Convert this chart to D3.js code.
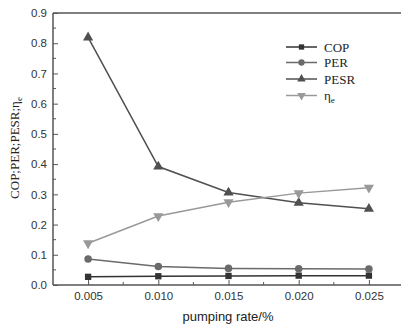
<!DOCTYPE html>
<html><head><meta charset="utf-8">
<script src="https://cdn.jsdelivr.net/npm/d3@7"></script>
<style>body{margin:0;background:#fff}svg{display:block}</style>
</head><body>
<script>
const rates = [0.005, 0.010, 0.015, 0.020, 0.025];
const cop  = [0.027, 0.029, 0.030, 0.031, 0.031];
const per  = [0.086, 0.061, 0.055, 0.054, 0.053];
const pesr = [0.819, 0.392, 0.306, 0.272, 0.252];
const eta  = [0.138, 0.228, 0.274, 0.304, 0.322];
const xTicks = [0.005, 0.010, 0.015, 0.020, 0.025];
const yTicks = [0, 0.1, 0.2, 0.3, 0.4, 0.5, 0.6, 0.7, 0.8, 0.9];

const W = 401, H = 329;
const svg = d3.select("body").append("svg").attr("width", W).attr("height", H);
const x = d3.scaleLinear().domain([0.0025, 0.0275]).range([53, 404]);
const y = d3.scaleLinear().domain([0, 0.9]).range([285, 13]);

const series = [
  {name: "COP", vals: cop, color: "#333333", sym: d3.symbolSquare, size: 40, rot: 0},
  {name: "PER", vals: per, color: "#6a6a6a", sym: d3.symbolCircle, size: 45, rot: 0},
  {name: "PESR", vals: pesr, color: "#505050", sym: d3.symbolTriangle, size: 45, rot: 0},
  {name: "η", vals: eta, color: "#999999", sym: d3.symbolTriangle, size: 45, rot: 180}
];

// axes lines
const axc = "#555";
svg.append("line").attr("x1", 53).attr("x2", 404).attr("y1", 13).attr("y2", 13).attr("stroke", axc).attr("stroke-width", 1.5);
svg.append("line").attr("x1", 53).attr("x2", 53).attr("y1", 13).attr("y2", 285).attr("stroke", axc).attr("stroke-width", 1.5);
svg.append("line").attr("x1", 53).attr("x2", 404).attr("y1", 285).attr("y2", 285).attr("stroke", axc).attr("stroke-width", 1.5);

// y ticks
const yAxis = d3.axisLeft(y).tickValues(yTicks).tickFormat(d3.format(".1f")).tickSizeInner(-5).tickSizeOuter(0).tickPadding(6);
const gy = svg.append("g").attr("transform", "translate(53,0)").call(yAxis);
gy.select(".domain").remove();
gy.selectAll("line").attr("stroke", axc).attr("stroke-width", 1);
gy.selectAll("text").attr("font-family", "Liberation Sans, Arial, sans-serif").attr("font-size", 11.5).attr("fill", "#333");
const yMinor = d3.range(0.05, 0.9, 0.1);
svg.append("g").selectAll("line").data(yMinor).join("line")
  .attr("x1", 53).attr("x2", 56).attr("y1", d => y(d)).attr("y2", d => y(d)).attr("stroke", axc);

// x ticks
const xAxis = d3.axisBottom(x).tickValues(xTicks).tickFormat(d3.format(".3f")).tickSizeInner(-5).tickSizeOuter(0).tickPadding(7);
const gx = svg.append("g").attr("transform", "translate(0,285)").call(xAxis);
gx.select(".domain").remove();
gx.selectAll("line").attr("stroke", axc).attr("stroke-width", 1);
gx.selectAll("text").attr("font-family", "Liberation Sans, Arial, sans-serif").attr("font-size", 11.5).attr("fill", "#333");
const xMinor = [0.0075, 0.0125, 0.0175, 0.0225];
svg.append("g").selectAll("line").data(xMinor).join("line")
  .attr("x1", d => x(d)).attr("x2", d => x(d)).attr("y1", 285).attr("y2", 282).attr("stroke", axc);

// axis titles
svg.append("text").attr("x", 228).attr("y", 321).attr("text-anchor", "middle")
  .attr("font-family", "Liberation Sans, Arial, sans-serif").attr("font-size", 13).attr("fill", "#222").text("pumping rate/%");
const yt = svg.append("text").attr("transform", "translate(19,148) rotate(-90)").attr("text-anchor", "middle")
  .attr("font-family", "Liberation Serif, Times New Roman, serif").attr("font-size", 13).attr("fill", "#222");
yt.append("tspan").text("COP;PER;PESR;η");
yt.append("tspan").attr("font-size", 9).attr("dy", 3).text("e");

// series
const line = d3.line().x((d, i) => x(rates[i])).y(d => y(d));
series.forEach(s => {
  svg.append("path").attr("d", line(s.vals)).attr("fill", "none").attr("stroke", s.color).attr("stroke-width", 1.5);
  svg.append("g").selectAll("path").data(s.vals).join("path")
    .attr("d", d3.symbol().type(s.sym).size(s.size))
    .attr("transform", (d, i) => `translate(${x(rates[i])},${y(d)}) rotate(${s.rot})`)
    .attr("fill", s.color);
});

// legend
const ly = [47, 62.5, 79, 95.5];
series.forEach((s, i) => {
  const g = svg.append("g");
  g.append("line").attr("x1", 286).attr("x2", 317).attr("y1", ly[i]).attr("y2", ly[i]).attr("stroke", s.color).attr("stroke-width", 1.5);
  g.append("path").attr("d", d3.symbol().type(s.sym).size(s.size * 0.7)).attr("transform", `translate(301.5,${ly[i]}) rotate(${s.rot})`).attr("fill", s.color);
  const t = g.append("text").attr("x", 324).attr("y", ly[i] + 4.5)
    .attr("font-family", "Liberation Serif, Times New Roman, serif").attr("font-size", 13).attr("fill", "#222");
  if (s.name === "η") { t.append("tspan").text("η"); t.append("tspan").attr("font-size", 9).attr("dy", 3).text("e"); }
  else t.text(s.name);
});
</script>
</body></html>
